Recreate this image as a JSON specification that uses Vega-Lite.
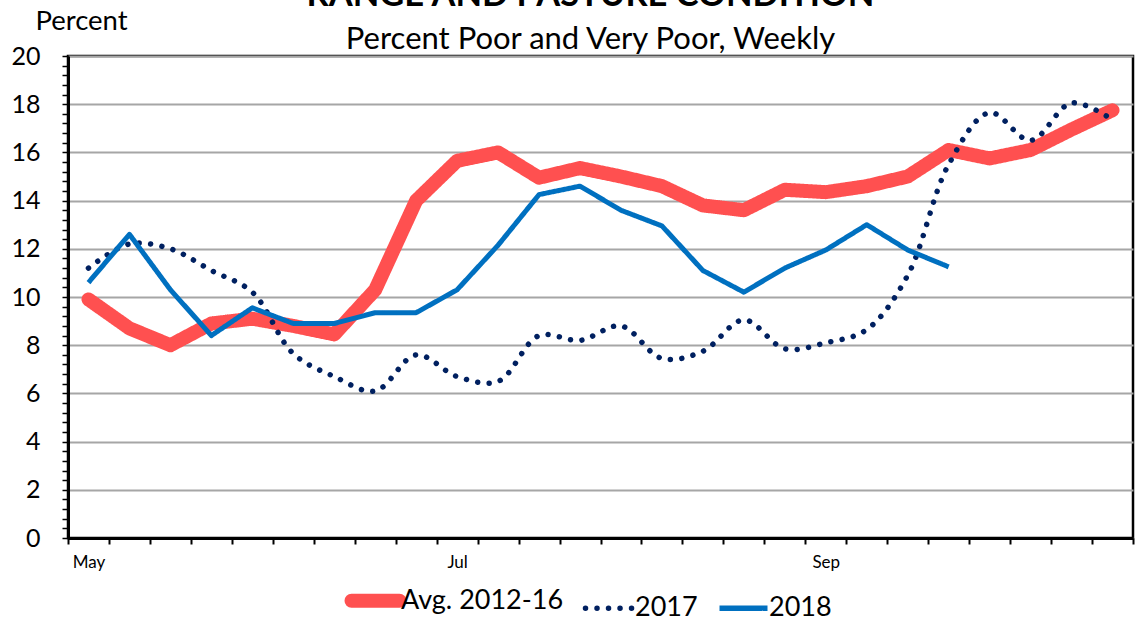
{
  "$schema": "https://vega.github.io/schema/vega-lite/v6.json",
  "width": 1065,
  "height": 482,
  "autosize": {"type": "none"},
  "padding": {"left": 68, "top": 56, "right": 5, "bottom": 85},
  "background": "white",
  "config": {"font": "Lato", "view": {"stroke": "black", "strokeWidth": 2.5}},
  "title": {
    "text": "RANGE AND PASTURE CONDITION",
    "subtitle": "Percent Poor and Very Poor, Weekly",
    "fontSize": 34.5, "fontWeight": "bold", "color": "black", "font": "Lato",
    "subtitleFont": "Lato", "subtitleFontSize": 31, "subtitleColor": "black",
    "anchor": "middle", "offset": -49, "subtitlePadding": 12, "dx": -10
  },
  "data": {"values": [
    {"week": 0, "series": "Avg. 2012-16", "value": 9.9},
    {"week": 1, "series": "Avg. 2012-16", "value": 8.7},
    {"week": 2, "series": "Avg. 2012-16", "value": 8.0},
    {"week": 3, "series": "Avg. 2012-16", "value": 8.9},
    {"week": 4, "series": "Avg. 2012-16", "value": 9.1},
    {"week": 5, "series": "Avg. 2012-16", "value": 8.8},
    {"week": 6, "series": "Avg. 2012-16", "value": 8.45},
    {"week": 7, "series": "Avg. 2012-16", "value": 10.3},
    {"week": 8, "series": "Avg. 2012-16", "value": 14.0},
    {"week": 9, "series": "Avg. 2012-16", "value": 15.65},
    {"week": 10, "series": "Avg. 2012-16", "value": 16.0},
    {"week": 11, "series": "Avg. 2012-16", "value": 14.95},
    {"week": 12, "series": "Avg. 2012-16", "value": 15.35},
    {"week": 13, "series": "Avg. 2012-16", "value": 15.0},
    {"week": 14, "series": "Avg. 2012-16", "value": 14.6},
    {"week": 15, "series": "Avg. 2012-16", "value": 13.8},
    {"week": 16, "series": "Avg. 2012-16", "value": 13.6},
    {"week": 17, "series": "Avg. 2012-16", "value": 14.45},
    {"week": 18, "series": "Avg. 2012-16", "value": 14.35},
    {"week": 19, "series": "Avg. 2012-16", "value": 14.6},
    {"week": 20, "series": "Avg. 2012-16", "value": 15.0},
    {"week": 21, "series": "Avg. 2012-16", "value": 16.1},
    {"week": 22, "series": "Avg. 2012-16", "value": 15.75},
    {"week": 23, "series": "Avg. 2012-16", "value": 16.1},
    {"week": 24, "series": "Avg. 2012-16", "value": 16.95},
    {"week": 25, "series": "Avg. 2012-16", "value": 17.75},
    {"week": 0, "series": "2017", "value": 11.2},
    {"week": 1, "series": "2017", "value": 12.2},
    {"week": 2, "series": "2017", "value": 12.0},
    {"week": 3, "series": "2017", "value": 11.1},
    {"week": 4, "series": "2017", "value": 10.2},
    {"week": 5, "series": "2017", "value": 7.65},
    {"week": 6, "series": "2017", "value": 6.7},
    {"week": 7, "series": "2017", "value": 6.1},
    {"week": 8, "series": "2017", "value": 7.6},
    {"week": 9, "series": "2017", "value": 6.7},
    {"week": 10, "series": "2017", "value": 6.5},
    {"week": 11, "series": "2017", "value": 8.4},
    {"week": 12, "series": "2017", "value": 8.2},
    {"week": 13, "series": "2017", "value": 8.8},
    {"week": 14, "series": "2017", "value": 7.45},
    {"week": 15, "series": "2017", "value": 7.75},
    {"week": 16, "series": "2017", "value": 9.05},
    {"week": 17, "series": "2017", "value": 7.85},
    {"week": 18, "series": "2017", "value": 8.1},
    {"week": 19, "series": "2017", "value": 8.65},
    {"week": 20, "series": "2017", "value": 10.9},
    {"week": 21, "series": "2017", "value": 15.5},
    {"week": 22, "series": "2017", "value": 17.65},
    {"week": 23, "series": "2017", "value": 16.5},
    {"week": 24, "series": "2017", "value": 18.05},
    {"week": 25, "series": "2017", "value": 17.35},
    {"week": 0, "series": "2018", "value": 10.6},
    {"week": 1, "series": "2018", "value": 12.6},
    {"week": 2, "series": "2018", "value": 10.3},
    {"week": 3, "series": "2018", "value": 8.4},
    {"week": 4, "series": "2018", "value": 9.55},
    {"week": 5, "series": "2018", "value": 8.9},
    {"week": 6, "series": "2018", "value": 8.9},
    {"week": 7, "series": "2018", "value": 9.35},
    {"week": 8, "series": "2018", "value": 9.35},
    {"week": 9, "series": "2018", "value": 10.3},
    {"week": 10, "series": "2018", "value": 12.15},
    {"week": 11, "series": "2018", "value": 14.25},
    {"week": 12, "series": "2018", "value": 14.6},
    {"week": 13, "series": "2018", "value": 13.6},
    {"week": 14, "series": "2018", "value": 12.95},
    {"week": 15, "series": "2018", "value": 11.1},
    {"week": 16, "series": "2018", "value": 10.2},
    {"week": 17, "series": "2018", "value": 11.2},
    {"week": 18, "series": "2018", "value": 11.95},
    {"week": 19, "series": "2018", "value": 13.0},
    {"week": 20, "series": "2018", "value": 11.95},
    {"week": 21, "series": "2018", "value": 11.25}
  ]},
  "encoding": {
    "x": {
      "field": "week", "type": "quantitative",
      "scale": {"domain": [-0.5, 25.5], "nice": false, "zero": false},
      "axis": {
        "title": null, "grid": false,
        "values": [-0.5, 0, 0.5, 1.5, 2.5, 3.5, 4.5, 5.5, 6.5, 7.5, 8.5, 9, 9.5, 10.5, 11.5, 12.5, 13.5, 14.5, 15.5, 16.5, 17.5, 18, 18.5, 19.5, 20.5, 21.5, 22.5, 23.5, 24.5, 25.5],
        "labelExpr": "datum.value === 0 ? 'May' : datum.value === 9 ? 'Jul' : datum.value === 18 ? 'Sep' : ''",
        "labelOverlap": false, "labelFontSize": 17, "labelColor": "black", "labelPadding": 10,
        "tickColor": "black", "tickWidth": 2, "tickSize": 6,
        "tickOpacity": {"condition": {"test": "datum.value % 1 === 0", "value": 0}, "value": 1},
        "domainColor": "black", "domainWidth": 3
      }
    },
    "y": {
      "field": "value", "type": "quantitative",
      "scale": {"domain": [0, 20], "nice": false},
      "axis": {
        "values": [0, 0.4, 0.8, 1.2, 1.6, 2, 2.4, 2.8, 3.2, 3.6, 4, 4.4, 4.8, 5.2, 5.6, 6, 6.4, 6.8, 7.2, 7.6, 8, 8.4, 8.8, 9.2, 9.6, 10, 10.4, 10.8, 11.2, 11.6, 12, 12.4, 12.8, 13.2, 13.6, 14, 14.4, 14.8, 15.2, 15.6, 16, 16.4, 16.8, 17.2, 17.6, 18, 18.4, 18.8, 19.2, 19.6, 20],
        "labelExpr": "datum.value % 2 === 0 ? format(datum.value, 'd') : ''",
        "labelOverlap": false, "labelFontSize": 25, "labelColor": "black", "labelPadding": 22,
        "tickColor": "black", "tickWidth": 1.5, "tickSize": 6,
        "grid": true, "gridColor": "#A6A6A6", "gridWidth": 2,
        "gridOpacity": {"condition": {"test": "datum.value % 2 === 0", "value": 1}, "value": 0},
        "domainColor": "black", "domainWidth": 3,
        "title": "Percent", "titleAngle": 0, "titleX": 13, "titleY": -27, "titleAlign": "center",
        "titleBaseline": "alphabetic", "titleFontSize": 27.5, "titleFontWeight": "normal", "titleColor": "black"
      }
    },
    "color": {
      "field": "series", "type": "nominal",
      "scale": {"domain": ["Avg. 2012-16", "2017", "2018"], "range": ["#FF5050", "#002060", "#0070C0"]},
      "legend": {
        "orient": "none", "legendX": 294, "legendY": 531, "direction": "horizontal", "title": null,
        "labelFontSize": 27, "labelColor": "black", "labelLimit": 400, "symbolType": "stroke", "symbolSize": 2304,
        "columnPadding": 10, "labelOffset": 12,
        "encode": {
          "symbols": {
            "update": {
              "strokeCap": {"signal": "datum.value === '2018' ? 'butt' : 'round'"},
              "strokeWidth": {"signal": "datum.value === 'Avg. 2012-16' ? 14 : 5.5"},
              "strokeDash": {"signal": "datum.value === 'Avg. 2012-16' ? [36, 100] : datum.value === '2017' ? [0.01, 11.5] : [1, 0]"},
              "strokeDashOffset": {"signal": "datum.value === 'Avg. 2012-16' ? 130 : 0"}
            }
          }
        }
      }
    },
    "strokeDash": {
      "field": "series", "type": "nominal",
      "scale": {"domain": ["Avg. 2012-16", "2017", "2018"], "range": [[1, 0], [0.01, 11.5], [1, 0]]}
    }
  },
  "layer": [
    {"transform": [{"filter": "datum.series === 'Avg. 2012-16'"}], "mark": {"type": "line", "strokeWidth": 14, "strokeCap": "round", "strokeJoin": "round"}},
    {"transform": [{"filter": "datum.series === '2017'"}], "mark": {"type": "line", "strokeWidth": 5.5, "interpolate": "catmull-rom", "strokeCap": "round"}},
    {"transform": [{"filter": "datum.series === '2018'"}], "mark": {"type": "line", "strokeWidth": 5, "strokeJoin": "round"}}
  ]
}
